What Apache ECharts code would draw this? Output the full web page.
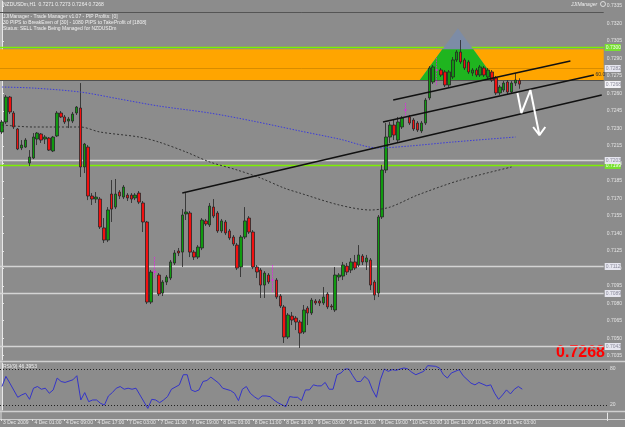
<!DOCTYPE html>
<html><head><meta charset="utf-8">
<script src="https://cdn.jsdelivr.net/npm/echarts@6/dist/echarts.min.js"></script>
<style>html,body{margin:0;padding:0;background:#8c8c8c}#c{width:625px;height:427px}</style>
</head><body><div id="c"></div><script>
const N = 154;
const timeLabels = ['3 Dec 2009','4 Dec 01:00','4 Dec 09:00','4 Dec 17:00','7 Dec 03:00','7 Dec 11:00','7 Dec 19:00','8 Dec 03:00','8 Dec 11:00','8 Dec 19:00','9 Dec 03:00','9 Dec 11:00','9 Dec 19:00','10 Dec 03:00','10 Dec 11:00','10 Dec 19:00','11 Dec 03:00'];
const priceTicks = [0.7335,0.7320,0.7305,0.7290,0.7275,0.7260,0.7245,0.7230,0.7215,0.7200,0.7185,0.7170,0.7155,0.7140,0.7125,0.7110,0.7095,0.7080,0.7065,0.7050,0.7035];
const openP = [0.72269,0.72355,0.72569,0.72432,0.72295,0.72132,0.72140,0.72003,0.72046,0.72209,0.72252,0.72209,0.72217,0.72106,0.72235,0.72432,0.72398,0.72363,0.72363,0.72432,
0.72475,0.71969,0.72140,0.71720,0.71694,0.71694,0.71446,0.71342,0.71737,0.71625,0.71754,0.71711,0.71728,0.71728,0.71703,0.71745,0.71660,0.71497,0.70810,0.71068,
0.71042,0.70887,0.70982,0.71016,0.71145,0.71248,0.71239,0.71566,0.71574,0.71239,0.71196,0.71274,0.71506,0.71472,0.71625,0.71574,0.71420,0.71497,0.71420,0.71368,
0.71299,0.71111,0.71368,0.71531,0.71411,0.71111,0.71085,0.70956,0.71042,0.70999,0.70999,0.70862,0.70768,0.70510,0.70690,0.70673,0.70639,0.70553,0.70759,0.70716,
0.70819,0.70819,0.70802,0.70879,0.70776,0.70742,0.71025,0.71033,0.71119,0.71085,0.71154,0.71128,0.71205,0.71154,0.71171,0.70982,0.70887,0.71540,0.71943,0.72226,
0.72329,0.72200,0.72312,0.72458,0.72398,0.72372,0.72346,0.72278,0.72346,0.72561,0.72698,0.72801,0.72801,0.72784,0.72672,0.72741,0.72887,0.72955,0.72887,0.72870,
0.72775,0.72801,0.72758,0.72818,0.72741,0.72784,0.72732,0.72604,0.72629,0.72698,0.72612,0.72689,0.7271];
const closeP = [0.72355,0.72569,0.72441,0.72312,0.72123,0.72157,0.72200,0.72054,0.72226,0.72260,0.72200,0.72226,0.72114,0.72226,0.72432,0.72398,0.72355,0.72380,0.72423,0.72483,
0.71969,0.72166,0.71720,0.71694,0.71711,0.71454,0.71342,0.71600,0.71608,0.71737,0.71720,0.71797,0.71703,0.71694,0.71728,0.71668,0.71497,0.70810,0.71068,0.71068,
0.70879,0.70982,0.71025,0.71154,0.71231,0.71231,0.71557,0.71583,0.71239,0.71196,0.71282,0.71514,0.71480,0.71634,0.71548,0.71420,0.71506,0.71403,0.71360,0.71308,
0.71102,0.71368,0.71506,0.71411,0.71111,0.71068,0.70956,0.71059,0.70982,0.70999,0.70853,0.70776,0.70510,0.70699,0.70656,0.70639,0.70544,0.70742,0.70716,0.70827,
0.70802,0.70802,0.70853,0.70768,0.70768,0.71042,0.71042,0.71128,0.71068,0.71154,0.71102,0.71214,0.71154,0.71188,0.70956,0.70870,0.71540,0.71943,0.72226,0.72329,
0.72243,0.72355,0.72389,0.72458,0.72346,0.72295,0.72286,0.72346,0.72543,0.72818,0.72827,0.72801,0.72758,0.72672,0.72784,0.72887,0.72955,0.72870,0.72818,0.72784,
0.72801,0.72758,0.72827,0.72758,0.72801,0.72715,0.72604,0.72655,0.72689,0.72612,0.72689,0.72715,0.7268];
const lowP = [0.72252,0.72338,0.72423,0.72295,0.72114,0.72114,0.72132,0.71977,0.72037,0.72157,0.72175,0.72166,0.72106,0.72097,0.72226,0.72389,0.72338,0.72303,0.72346,0.72415,
0.71883,0.71917,0.71685,0.71643,0.71660,0.71437,0.71317,0.71325,0.71497,0.71608,0.71694,0.71694,0.71677,0.71660,0.71685,0.71651,0.71411,0.70793,0.70793,0.71016,
0.70862,0.70862,0.70956,0.70999,0.71128,0.71205,0.71111,0.71514,0.71196,0.71171,0.71179,0.71256,0.71463,0.71454,0.71531,0.71403,0.71403,0.71385,0.71342,0.71291,
0.71085,0.71025,0.71351,0.71394,0.71093,0.71016,0.70845,0.70845,0.70965,0.70896,0.70836,0.70759,0.70459,0.70493,0.70613,0.70570,0.70416,0.70536,0.70613,0.70699,
0.70785,0.70776,0.70785,0.70750,0.70742,0.70725,0.70991,0.70999,0.71042,0.71059,0.71085,0.71111,0.71128,0.71085,0.70913,0.70827,0.70853,0.71523,0.71917,0.72175,
0.72200,0.72175,0.72295,0.72398,0.72329,0.72278,0.72269,0.72260,0.72329,0.72543,0.72681,0.72672,0.72741,0.72655,0.72655,0.72724,0.72870,0.72852,0.72801,0.72767,
0.72749,0.72741,0.72741,0.72741,0.72724,0.72698,0.72586,0.72586,0.72612,0.72595,0.72595,0.72664,0.7264];
const highP = [0.72372,0.72586,0.72578,0.72449,0.72303,0.72200,0.72217,0.72114,0.72260,0.72269,0.72260,0.72243,0.72226,0.72235,0.72449,0.72449,0.72415,0.72398,0.72441,0.72492,
0.72689,0.72175,0.72157,0.71745,0.71754,0.71711,0.71531,0.71625,0.71857,0.71866,0.71771,0.71814,0.71745,0.71745,0.71745,0.71763,0.71677,0.71506,0.71085,0.71196,
0.71059,0.70999,0.71042,0.71171,0.71256,0.71274,0.71608,0.71745,0.71591,0.71256,0.71299,0.71531,0.71523,0.71660,0.71694,0.71591,0.71523,0.71514,0.71437,0.71385,
0.71317,0.71385,0.71625,0.71548,0.71428,0.71128,0.71102,0.71076,0.71059,0.71128,0.71016,0.70879,0.70785,0.70716,0.70725,0.70690,0.70656,0.70785,0.70776,0.70845,
0.70836,0.70836,0.70939,0.70896,0.70793,0.71111,0.71059,0.71154,0.71145,0.71188,0.71214,0.71299,0.71222,0.71214,0.71188,0.70999,0.71557,0.71986,0.72346,0.72355,
0.72372,0.72398,0.72406,0.72518,0.72415,0.72389,0.72363,0.72363,0.72561,0.72835,0.72844,0.72904,0.72818,0.72801,0.72801,0.72912,0.72972,0.73058,0.72904,0.72887,
0.72818,0.72818,0.72844,0.72835,0.72818,0.72801,0.72749,0.72672,0.72706,0.72715,0.72706,0.72775,0.7273];
const dojiBars = [39,69,103,111];
const maBlue = [[0,0.72655],[8,0.72646],[20,0.72612],[30,0.72552],[40,0.72492],[53,0.72432],[64,0.72363],[76,0.72278],[86,0.72209],[96,0.72132],[104,0.72149],[115,0.72183],[131,0.72226]];
const maBlack = [[0,0.72329],[8,0.72312],[20,0.72312],[25,0.72269],[35,0.72226],[40,0.72183],[47,0.72097],[53,0.72012],[60,0.71943],[66,0.71874],[72,0.71788],[76,0.71745],[86,0.71643],[94,0.71600],[99,0.71625],[106,0.71728],[117,0.71857],[130,0.71969]];
const rsiPts = [[0,50.8],[1,67.7],[2,56.4],[4,32.9],[5,36.8],[6,39.6],[7,29.5],[8,48.0],[9,50.8],[10,46.3],[11,48.0],[12,39.6],[13,45.2],[14,64.9],[15,59.2],[16,57.6],[18,62.0],[19,68.8],[20,28.4],[21,40.7],[22,25.6],[23,28.4],[24,28.4],[25,22.8],[26,20.0],[27,35.1],[28,40.7],[29,48.0],[30,50.8],[31,46.3],[32,48.0],[33,46.3],[34,48.0],[35,36.8],[37,14.4],[38,29.5],[39,28.4],[40,23.9],[41,28.4],[42,34.0],[43,46.3],[45,53.6],[46,70.5],[47,70.5],[48,45.2],[49,42.4],[50,45.2],[51,59.2],[52,60.9],[53,66.5],[55,56.4],[56,48.0],[58,44.1],[59,39.6],[60,27.3],[61,46.3],[62,50.8],[63,39.6],[64,34.0],[65,29.5],[66,35.1],[67,35.1],[68,34.0],[69,28.4],[70,23.9],[72,17.2],[73,34.0],[74,32.9],[75,32.9],[76,27.3],[77,45.2],[78,45.2],[79,53.6],[80,51.9],[81,51.9],[82,57.6],[83,46.3],[84,46.3],[85,70.5],[86,73.3],[87,80.0],[88,80.0],[89,68.8],[90,59.2],[91,59.2],[92,67.7],[93,62.0],[94,45.2],[95,32.9],[96,62.0],[97,80.0],[98,76.1],[99,78.9],[100,77.8],[101,80.0],[102,81.7],[103,80.0],[104,74.4],[105,70.5],[107,76.1],[108,85.6],[110,84.5],[111,81.7],[112,70.5],[113,64.9],[114,73.3],[116,78.9],[117,68.8],[119,56.4],[120,53.6],[121,57.6],[123,51.9],[124,53.6],[125,39.6],[126,29.5],[127,36.8],[128,45.2],[129,38.5],[130,46.3],[131,50.8],[132,46.4]];
const rsiLevels = [80,20];
const bandTop = 0.72978, bandBottom = 0.72713, bandMid = 0.7282;
const darkLevel = 0.7330;
const greenLevels = [0.7300, 0.7199];
const lightLevels = [0.7203, 0.7112, 0.7089, 0.7043];
const currentPrice = 0.7268;
const trendC = [[46,0.71746],[153,0.72586]];
const trendB = [[97.2,0.72355],[151,0.72758]];
const trendA = [[99.8,0.72543],[145,0.72878]];
const arrowPath = [[131.5,0.72604],[132.5,0.72432],[134.8,0.72629],[137.1,0.72243]];
const arrowHead = [[135.5,0.72312],[137.1,0.72243],[138.6,0.72312]];
const triangle = [[106.6,0.72715],[116.3,0.7316],[125.9,0.72715]];
const fibText = {pos:[151.4,0.7274], text:'60.0'};

const FONT = 'Liberation Sans';
const cats = Array.from({length:N},(_,i)=>String(i));
const candleData = openP.map((o,i)=>{
  const v=[o,closeP[i],lowP[i],highP[i]];
  if (dojiBars.includes(i)) return {value:v,itemStyle:{color:'#ff00ff',color0:'#ff00ff',borderColor:'#ff00ff',borderColor0:'#ff00ff',borderColorDoji:'#ff00ff',borderType:'dotted'}};
  return v;
});
// level styles: [value, line colour, line width, box bg, box text] built from the level arrays
const STY = {
  dark:['#555',1,null,null], mid:['#d88c00',1,'#e6e6ef','#8a8a9a'], bottom:['#505050',1.2,null,null],
  cur:[null,0,'#f2f2f6','#8a8a9a'], green:['#7cf000',1.5,'#78e030','#f4fff0'], light:['#d4d4d4',1.5,'#e6e6ef','#8a8a9a']
};
const levelItems = [[darkLevel,'dark'],[bandMid,'mid'],[bandBottom,'bottom'],[currentPrice,'cur'],
  ...greenLevels.map(v=>[v,'green']), ...lightLevels.map(v=>[v,'light'])];

const chart = echarts.init(document.getElementById('c'),null,{renderer:'canvas'});
const valX = (gi)=>({type:'value',gridIndex:gi,min:-0.5,max:N-0.5,show:false});
const catX = (gi,show)=>({type:'category',gridIndex:gi,data:cats,boundaryGap:true,
  axisLine:{show:false},axisTick:{show:show,interval:(i)=>i%8===0&&i/8<timeLabels.length,length:2,inside:false,lineStyle:{color:'#e0e0e0'}},
  axisLabel:{show:show,interval:(i)=>i%8===0&&i/8<timeLabels.length,formatter:(v,idx)=>timeLabels[idx/8]||'',align:'left',fontSize:5,fontFamily:FONT,color:'#e8e8e8',margin:1},
  splitLine:{show:false}});
const option = {
  animation:false,
  backgroundColor:'#8c8c8c',
  grid:[{left:0,top:1,width:607,height:359},{left:0,top:363,width:607,height:47},{left:0,top:413,width:607,height:6}],
  xAxis:[catX(0,false),valX(0),catX(1,false),valX(1),catX(2,true)],
  yAxis:[
    {type:'value',gridIndex:0,position:'right',min:0.70313,max:0.73393,splitLine:{show:false},
     axisLine:{show:true,lineStyle:{color:'#e8e8e8',width:1}},
     axisTick:{show:true,customValues:priceTicks,length:2,lineStyle:{color:'#e8e8e8'}},
     axisLabel:{customValues:priceTicks,formatter:v=>v.toFixed(4),fontSize:5,fontFamily:FONT,color:'#e4e4e4',margin:3}},
    {type:'value',gridIndex:1,position:'right',min:11.7,max:90,splitLine:{show:false},
     axisLine:{show:true,lineStyle:{color:'#e8e8e8'}},
     axisTick:{show:true,customValues:rsiLevels,length:2,lineStyle:{color:'#e8e8e8'}},
     axisLabel:{customValues:rsiLevels,fontSize:5,fontFamily:FONT,color:'#e4e4e4',margin:3}},
    {type:'value',gridIndex:2,position:'right',min:0,max:1,splitLine:{show:false},axisLabel:{show:false},axisTick:{show:false},
     axisLine:{show:true,lineStyle:{color:'#e8e8e8'}}}
  ],
  series:[
    {type:'custom',name:'band',xAxisIndex:1,yAxisIndex:0,z:1,silent:true,data:[[0,bandTop]],
     renderItem:(params,api)=>{
       const cs=params.coordSys; const y1=api.coord([0,bandTop])[1], y2=api.coord([0,bandBottom])[1];
       return {type:'rect',shape:{x:cs.x,y:y1,width:cs.width,height:y2-y1},style:{fill:'#ffa500'}};
     }},
    {type:'custom',name:'levels',xAxisIndex:1,yAxisIndex:0,z:2,silent:true,clip:false,
     data:levelItems.map(l=>[0,l[0]]),
     renderItem:(params,api)=>{
       const item=levelItems[params.dataIndex]; const s=STY[item[1]];
       const cs=params.coordSys; const y=Math.round(api.coord([0,item[0]])[1])+0.5;
       const ch=[];
       if (s[0]) ch.push({type:'line',shape:{x1:cs.x,y1:y,x2:cs.x+cs.width,y2:y},style:{stroke:s[0],lineWidth:s[1]}});
       if (s[2]) {
         ch.push({type:'rect',shape:{x:cs.x+cs.width+1,y:y-3.5,width:16,height:7},style:{fill:s[2]}});
         ch.push({type:'text',x:cs.x+cs.width+2,y:y,style:{text:item[0].toFixed(4),fontSize:5,fontFamily:FONT,fill:s[3],verticalAlign:'middle'}});
       }
       return {type:'group',children:ch};
     }},
    {type:'custom',name:'triangle',xAxisIndex:1,yAxisIndex:0,z:3,silent:true,data:[triangle[0]],
     renderItem:(params,api)=>{
       const t=(bandTop-triangle[0][1])/(triangle[1][1]-triangle[0][1]);
       const li=[triangle[0][0]+t*(triangle[1][0]-triangle[0][0]),bandTop];
       const ri=[triangle[2][0]+t*(triangle[1][0]-triangle[2][0]),bandTop];
       return {type:'group',children:[
         {type:'polygon',shape:{points:triangle.map(p=>api.coord(p))},style:{fill:'#7d8ca6'}},
         {type:'polygon',shape:{points:[triangle[0],li,ri,triangle[2]].map(p=>api.coord(p))},style:{fill:'#1fb51f'}}
       ]};
     }},
    {type:'candlestick',name:'NZDUSDm',xAxisIndex:0,yAxisIndex:0,z:4,barWidth:3,data:candleData,
     itemStyle:{color:'#109a10',color0:'#f21010',borderColor:'#262626',borderColor0:'#262626',borderWidth:0.8}},
    {type:'line',name:'MA blue',xAxisIndex:1,yAxisIndex:0,z:5,data:maBlue,symbol:'none',smooth:0.3,silent:true,
     lineStyle:{color:'#3b3bdc',width:1,type:[1.5,1.5]}},
    {type:'line',name:'MA black',xAxisIndex:1,yAxisIndex:0,z:5,data:maBlack,symbol:'none',smooth:0.3,silent:true,
     lineStyle:{color:'#333',width:1,type:[2,2]}},
    ...[trendA,trendB,trendC].map(d=>({type:'line',xAxisIndex:1,yAxisIndex:0,z:6,data:d,symbol:'none',silent:true,lineStyle:{color:'#111',width:1.5}})),
    {type:'line',xAxisIndex:1,yAxisIndex:0,z:7,data:arrowPath,symbol:'none',silent:true,lineStyle:{color:'#ffffff',width:2}},
    {type:'line',xAxisIndex:1,yAxisIndex:0,z:7,data:arrowHead,symbol:'none',silent:true,lineStyle:{color:'#ffffff',width:2}},
    {type:'custom',xAxisIndex:1,yAxisIndex:0,z:7,silent:true,data:[fibText.pos],
     renderItem:(params,api)=>{const p=api.coord(fibText.pos);return {type:'text',x:p[0],y:p[1],style:{text:fibText.text,fontSize:5,fontFamily:FONT,fill:'#333',verticalAlign:'bottom'}};}},
    {type:'line',name:'RSI',xAxisIndex:3,yAxisIndex:1,data:rsiPts,symbol:'none',silent:true,lineStyle:{color:'#3434c8',width:1},
     markLine:{silent:true,symbol:'none',label:{show:false},lineStyle:{color:'#222',width:1,type:[1,2]},data:rsiLevels.map(v=>({yAxis:v}))}}
  ],
  graphic:[
    {type:'line',shape:{x1:1,y1:0,x2:1,y2:420},style:{stroke:'#dcdcdc',lineWidth:1}},
    {type:'line',shape:{x1:0,y1:361.5,x2:625,y2:361.5},style:{stroke:'#d0d0d0',lineWidth:1.5}},
    {type:'line',shape:{x1:0,y1:411.5,x2:625,y2:411.5},style:{stroke:'#d0d0d0',lineWidth:1.5}},
    {type:'line',shape:{x1:0,y1:419.5,x2:625,y2:419.5},style:{stroke:'#d0d0d0',lineWidth:1}},
    {type:'text',left:3,top:2,style:{text:'NZDUSDm,H1  0.7271 0.7273 0.7264 0.7268',fontSize:5,fontFamily:FONT,fill:'#f0f0f0'}},
    {type:'text',left:3,top:14,style:{text:'JJIManager - Trade Manager v1.07 - PIP Profits: [0]',fontSize:5,fontFamily:FONT,fill:'#f0f0f0'}},
    {type:'text',left:3,top:20,style:{text:'30 PIPS to BreakEven of [30] - 1080 PIPS to TakeProfit of [1808]',fontSize:5,fontFamily:FONT,fill:'#f0f0f0'}},
    {type:'text',left:3,top:26,style:{text:'Status: SELL Trade Being Managed for NZDUSDm',fontSize:5,fontFamily:FONT,fill:'#f0f0f0'}},
    {type:'text',left:571,top:2,style:{text:'JJIManager',fontSize:5,fontStyle:'italic',fontFamily:FONT,fill:'#eeeeee'}},
    {type:'circle',shape:{cx:603,cy:4,r:2.5},style:{fill:'none',stroke:'#eeeeee',lineWidth:0.8}},
    {type:'text',right:20,top:345,style:{text:'0.7268',fontSize:16,fontWeight:'bold',fontFamily:FONT,fill:'#ff0000'}},
    {type:'text',left:3,top:364,style:{text:'RSI(9) 46.3953',fontSize:5,fontFamily:FONT,fill:'#eeeeee'}}
  ]
};
chart.setOption(option);
</script></body></html>
